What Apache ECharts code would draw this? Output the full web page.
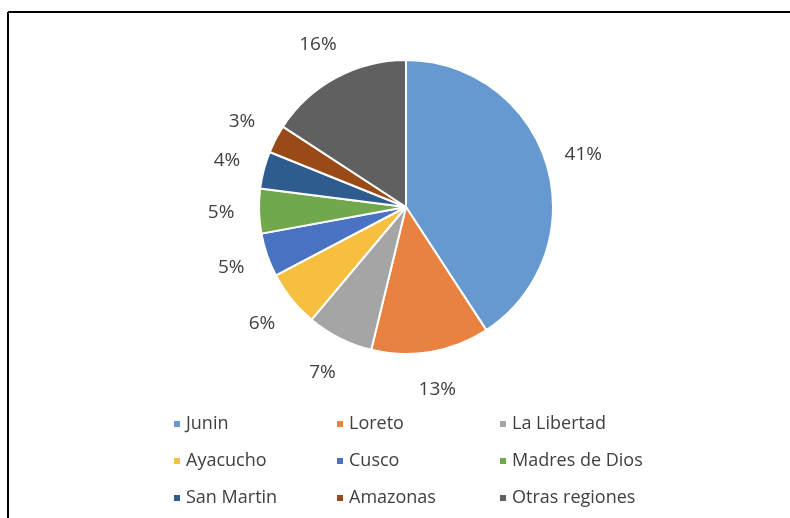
<!DOCTYPE html>
<html>
<head>
<meta charset="utf-8">
<script src="https://cdn.jsdelivr.net/npm/echarts@6/dist/echarts.min.js"></script>
<style>
    html, body { margin: 0; padding: 0; background: #fff; }
    #chart { width: 790px; height: 518px; }
</style>
</head>
<body>
<div id="chart"></div>
<script>
const regions = ['Junin', 'Loreto', 'La Libertad', 'Ayacucho', 'Cusco', 'Madres de Dios', 'San Martin', 'Amazonas', 'Otras regiones']
const shares = [40.8, 13.0, 7.3, 6.2, 4.8, 4.9, 4.1, 3.1, 15.8]
const colors = ['#6699D0', '#E98140', '#A5A5A5', '#F6BF3F', '#4A72C2', '#72A84D', '#2F5C8F', '#9A4A17', '#606060']
// legend columns, as laid out in the picture
const legendCol1 = ['Junin', 'Ayacucho', 'San Martin']
const legendCol2 = ['Loreto', 'Cusco', 'Amazonas']
const legendCol3 = ['La Libertad', 'Madres de Dios', 'Otras regiones']

const font = '"Open Sans", "Liberation Sans", sans-serif'
const textColor = '#404040'

const mychart = echarts.init(document.getElementById('chart'))

const pieData = regions.map((name, i) => ({ name: name, value: shares[i] }))

const makeLegend = (data, left) => ({
    data: data,
    orient: 'vertical',
    left: left,
    top: 415,
    padding: 0,
    icon: 'rect',
    itemWidth: 8,
    itemHeight: 8,
    itemGap: 19,
    itemTextGap: 8,
    textStyle: {
        fontFamily: font,
        fontSize: 18,
        color: textColor
    }
})

mychart.setOption({
    color: colors,
    animation: false,
    legend: [
        makeLegend(legendCol1, 172),
        makeLegend(legendCol2, 335),
        makeLegend(legendCol3, 498)
    ],
    graphic: [
        { type: 'line', shape: { x1: 8, y1: 12, x2: 790, y2: 12 }, style: { stroke: '#000', lineWidth: 2 } },
        { type: 'line', shape: { x1: 8, y1: 12, x2: 8, y2: 518 }, style: { stroke: '#000', lineWidth: 2 } }
    ],
    series: [
        {
            type: 'pie',
            center: [406, 207],
            radius: 147,
            startAngle: 90,
            clockwise: true,
            itemStyle: {
                borderColor: '#fff',
                borderWidth: 2
            },
            label: { show: false },
            labelLine: { show: false },
            data: pieData
        },
        {
            // invisible ring around the pie, only used to carry the percent labels
            type: 'pie',
            silent: true,
            center: [406, 207],
            radius: [147, 217],
            startAngle: 90,
            clockwise: true,
            itemStyle: {
                color: 'rgba(0,0,0,0)',
                borderWidth: 0
            },
            label: {
                show: true,
                position: 'inside',
                fontFamily: font,
                fontSize: 19,
                color: textColor,
                formatter: (p) => Math.round(p.percent) + '%'
            },
            labelLine: { show: false },
            data: pieData
        }
    ]
})
</script>
</body>
</html>
